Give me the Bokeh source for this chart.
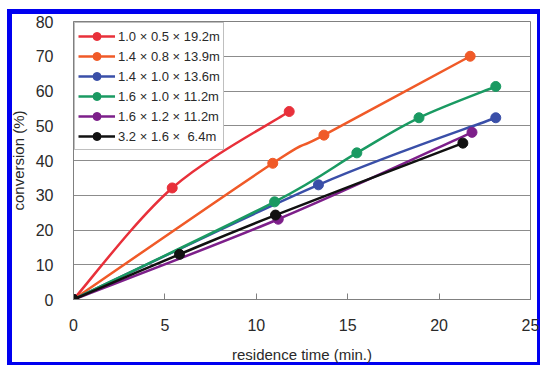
import numpy as np
from bokeh.plotting import figure
from bokeh.models import Legend, LegendItem, ColumnDataSource, FixedTicker
from bokeh.embed import file_html
from bokeh.resources import INLINE

# ---- data ----
labels = ["1.0 × 0.5 × 19.2m", "1.4 × 0.8 × 13.9m", "1.4 × 1.0 × 13.6m",
          "1.6 × 1.0 × 11.2m", "1.6 × 1.2 × 11.2m", "3.2 × 1.6 ×  6.4m"]
colors = ["#e8303a", "#f05a28", "#3a4fa8", "#1a9a62", "#7d1f8a", "#111111"]

red_x = [0, 5.4, 11.8]
red_y = [0, 32.1, 54.1]
orange_x = [0, 10.9, 13.7, 21.7]
orange_y = [0, 39.2, 47.3, 70.0]
blue_x = [0, 13.4, 23.1]
blue_y = [0, 33.0, 52.3]
green_x = [0, 11.0, 15.5, 18.9, 23.1]
green_y = [0, 28.1, 42.2, 52.3, 61.3]
purple_x = [0, 11.2, 21.8]
purple_y = [0, 23.1, 48.1]
black_x = [0, 5.8, 11.05, 21.3]
black_y = [0, 13.0, 24.3, 45.0]

series_x = [red_x, orange_x, blue_x, green_x, purple_x, black_x]
series_y = [red_y, orange_y, blue_y, green_y, purple_y, black_y]

x_ticks = [0, 5, 10, 15, 20, 25]
y_ticks = [0, 10, 20, 30, 40, 50, 60, 70, 80]

FONT = "Liberation Sans"

p = figure(width=540, height=365, x_range=(0, 25), y_range=(0, 80),
           output_backend="svg", toolbar_location=None,
           min_border_left=73, min_border_right=10, min_border_top=21,
           min_border_bottom=63)
# blue picture frame (drawn behind the transparent canvas border)
p.styles = {"box-shadow": ("inset 7px 9px 0 0 white, inset 12px 14px 0 0 #0000f0, "
                           "inset -3px -3px 0 0 #0000f0"),
            "background-color": "white"}

p.outline_line_color = "#808080"
p.outline_line_width = 1
p.background_fill_color = "white"
p.border_fill_alpha = 0.0

p.xgrid.grid_line_color = None
p.ygrid.grid_line_color = "#8c8c8c"
p.ygrid.grid_line_width = 1
p.xaxis.ticker = FixedTicker(ticks=x_ticks)
p.yaxis.ticker = FixedTicker(ticks=y_ticks)

for ax in (p.xaxis[0], p.yaxis[0]):
    ax.axis_line_color = "#808080"
    ax.major_label_text_font = FONT
    ax.major_label_text_font_size = "16px"
    ax.major_label_text_color = "#2a2a2a"
    ax.axis_label_text_font = FONT
    ax.axis_label_text_font_size = "15px"
    ax.axis_label_text_font_style = "normal"
    ax.axis_label_text_color = "#2a2a2a"
    ax.minor_tick_line_color = None

p.xaxis.major_tick_in = 6
p.xaxis.major_tick_out = 0
p.xaxis.major_tick_line_color = "#808080"
p.xaxis.major_label_standoff = 19
p.xaxis.axis_label = "residence time (min.)"
p.xaxis.axis_label_standoff = 12

p.yaxis.major_tick_line_color = None
p.yaxis.major_label_standoff = 14
p.yaxis.axis_label = "conversion (%)"
p.yaxis.axis_label_standoff = 6

items = []
k = 1.0 / 6.0
for lab, col, xs, ys in zip(labels, colors, series_x, series_y):
    xs = np.asarray(xs, float)
    ys = np.asarray(ys, float)
    n = len(xs)
    x0s, y0s, x1s, y1s, cx0, cy0, cx1, cy1 = [], [], [], [], [], [], [], []
    for i in range(n - 1):
        ip = max(i - 1, 0)
        inn = min(i + 2, n - 1)
        x0s.append(xs[i]); y0s.append(ys[i])
        x1s.append(xs[i + 1]); y1s.append(ys[i + 1])
        cx0.append(xs[i] + (xs[i + 1] - xs[ip]) * k)
        cy0.append(ys[i] + (ys[i + 1] - ys[ip]) * k)
        cx1.append(xs[i + 1] - (xs[inn] - xs[i]) * k)
        cy1.append(ys[i + 1] - (ys[inn] - ys[i]) * k)
    src = ColumnDataSource(dict(x0=x0s, y0=y0s, x1=x1s, y1=y1s,
                                cx0=cx0, cy0=cy0, cx1=cx1, cy1=cy1))
    rb = p.bezier(x0="x0", y0="y0", x1="x1", y1="y1", cx0="cx0", cy0="cy0",
                  cx1="cx1", cy1="cy1", source=src, line_color=col, line_width=2.5)
    rs = p.scatter(xs, ys, size=10, fill_color=col, line_color=col)
    items.append(LegendItem(label=lab, renderers=[rb, rs]))

legend = Legend(items=items, location="top_left")
legend.margin = 1
legend.padding = 3
legend.spacing = 0
legend.glyph_width = 37
legend.glyph_height = 20
legend.label_height = 20
legend.label_standoff = 3
legend.label_text_font = FONT
legend.label_text_font_size = "13px"
legend.label_text_color = "#2a2a2a"
legend.border_line_color = "#808080"
legend.border_line_width = 1
legend.background_fill_alpha = 1.0
p.add_layout(legend)

open("out.html", "w").write(file_html(p, INLINE))
